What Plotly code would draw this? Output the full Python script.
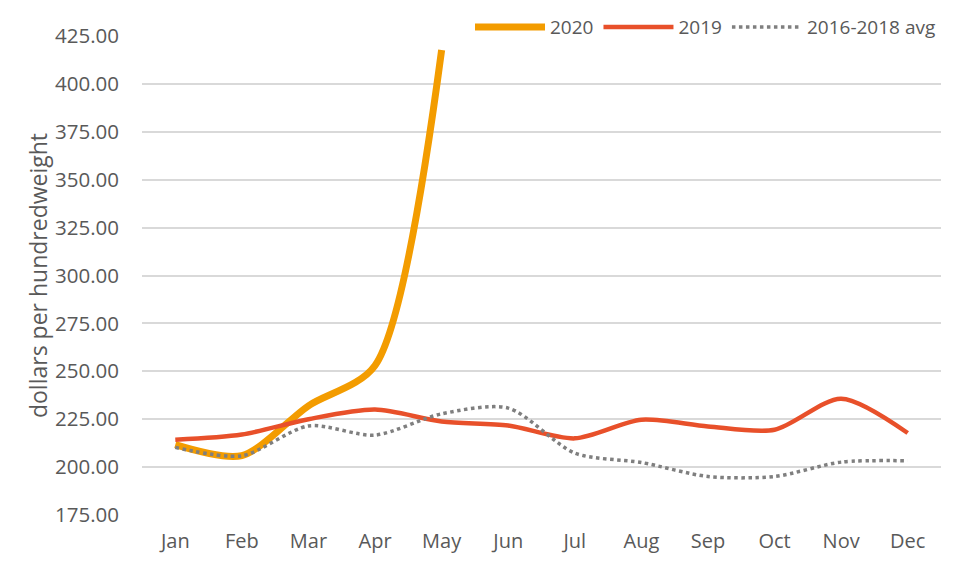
import plotly.graph_objects as go

months = ["Jan", "Feb", "Mar", "Apr", "May", "Jun", "Jul", "Aug", "Sep", "Oct", "Nov", "Dec"]
y2020 = [211.7, 206.0, 232.0, 253.0, 417.7]
y2019 = [214.3, 217.0, 225.0, 230.0, 223.8, 221.7, 215.0, 224.7, 221.2, 219.5, 235.7, 217.8]
yavg = [210.3, 205.9, 221.5, 216.7, 227.8, 230.8, 207.3, 202.4, 195.1, 195.1, 202.6, 203.3]
yticks = [175, 200, 225, 250, 275, 300, 325, 350, 375, 400, 425]
yticklabels = [f"{v:.2f}" for v in yticks]

FONT = "Open Sans"
fig = go.Figure()
fig.add_trace(go.Scatter(x=months[:len(y2020)], y=y2020, name="2020", mode="lines",
                         line=dict(color="#F39C00", width=7, shape="spline", smoothing=0.8)))
fig.add_trace(go.Scatter(x=months, y=y2019, name="2019", mode="lines",
                         line=dict(color="#E8502A", width=4.5, shape="spline", smoothing=0.8)))
fig.add_trace(go.Scatter(x=months, y=yavg, name="2016-2018 avg", mode="lines",
                         line=dict(color="#7F7F7F", width=3.5, dash="dot", shape="spline", smoothing=0.8)))

fig.update_layout(
    width=961, height=561,
    margin=dict(l=134, r=28, t=28, b=54, autoexpand=False),
    paper_bgcolor="white", plot_bgcolor="white",
    font=dict(family=FONT, size=20, color="#595959"),
    hovermode=False,
    legend=dict(orientation="h", x=1.0, xanchor="right", y=1.058, yanchor="top",
                itemwidth=70,
                font=dict(size=19, color="#595959"), traceorder="normal",
                bgcolor="rgba(0,0,0,0)", borderwidth=0),
    xaxis=dict(range=[-0.5, 11.5], showgrid=False, zeroline=False, showline=False, ticks="",
               ticklabelstandoff=12, tickfont=dict(size=20, color="#595959")),
    yaxis=dict(range=[175, 425], tickvals=yticks, ticktext=yticklabels,
               showgrid=True, gridcolor="#D9D9D9", gridwidth=1.5, zeroline=False,
               showline=False, ticks="", ticklabelstandoff=22,
               tickfont=dict(size=20.5, color="#595959"),
               title=dict(text="dollars per hundredweight", standoff=0,
                          font=dict(size=23, color="#595959"))),
)
fig.write_html("out.html")
